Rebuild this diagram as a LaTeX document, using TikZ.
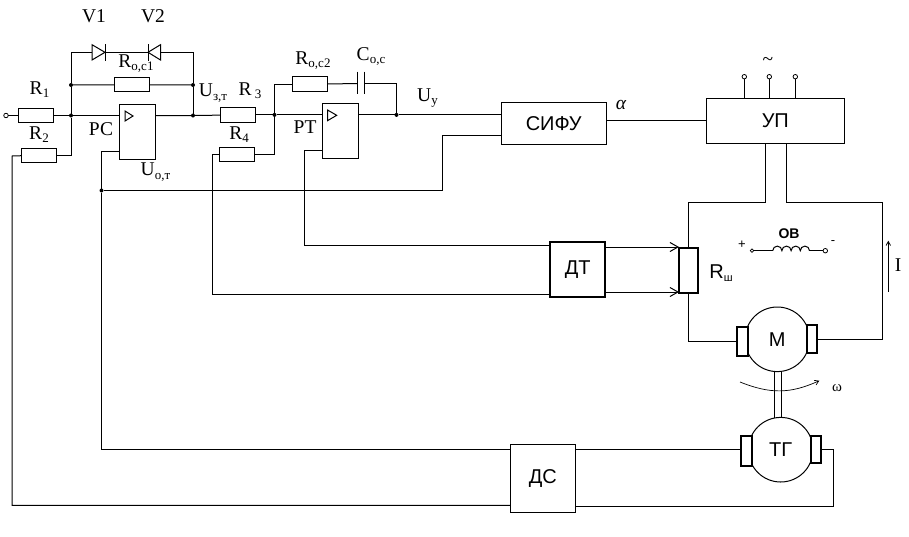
\documentclass[tikz,border=0pt]{standalone}
\usepackage{fontspec}
\setmainfont{Liberation Serif}
\setsansfont{Liberation Sans}
\usetikzlibrary{arrows.meta, positioning, calc}
\newcommand{\sbs}[1]{\raisebox{-0.4ex}{\fontsize{13}{13}\selectfont #1}}

\begin{document}
\begin{tikzpicture}[x=1pt, y=-1pt, >=Stealth, line width=1pt,
    every node/.style={inner sep=0pt, outer sep=0pt},
    res/.style={draw, minimum width=35pt, minimum height=14.5pt},
    amp/.style={draw, minimum width=36pt, minimum height=55pt},
    block/.style={draw, font=\sffamily\fontsize{20}{20}\selectfont},
    thickblock/.style={block, line width=2pt},
    brush/.style={draw, fill=white, line width=2pt},
    machine/.style={draw, circle, minimum size=64.6pt, font=\sffamily\fontsize{20}{20}\selectfont},
    dot/.style={circle, fill, minimum size=4pt},
    term/.style={circle, draw, fill=white, line width=0.8pt, minimum size=4.5pt},
    lbl/.style={font=\fontsize{19.5}{19.5}\selectfont},
    barb/.style={-{Straight Barb[length=8pt, width=9pt]}}]
    \useasboundingbox (0,0) rectangle (909,536);

    % first regulator
    \node (In) at (6,115.5) [term] {};
    \node (R1) at (36,115.5) [res] {};
    \node (R2) at (39,155.7) [res] {};
    \node (Roc1) at (132,84.7) [res] {};
    \node (PC) at (137.5,131.7) [amp] {};
    \node (Sum1) at (71,115.5) [dot] {};
    \node (Fb1) at (71,85) [dot] {};
    \node (Out1) at (193,115.5) [dot] {};
    \node (Fb2) at (193,85) [dot] {};
    \coordinate (TopL) at (71,52.3);
    \coordinate (TopR) at (193,52.3);
    \coordinate (D1) at (105.5,52.3);
    \coordinate (D2) at (148,52.3);
    \coordinate (PCin) at (119.5,151.5);

    % second regulator
    \node (R3) at (238,114.9) [res] {};
    \node (R4) at (237,154.7) [res] {};
    \node (Roc2) at (310,84) [res] {};
    \node (PT) at (340.5,130.8) [amp] {};
    \node (Sum2) at (274.5,114.9) [dot] {};
    \node (Out2) at (396.5,114.9) [dot] {};
    \node (Ub) at (101.5,190.5) [dot] {};
    \coordinate (C1) at (357.5,83.5);
    \coordinate (C2) at (364.7,83.5);
    \coordinate (PTin) at (322.5,150.5);

    % power part
    \node (SIFU) at (553.7,123.2) [block, minimum width=104.7pt, minimum height=41.7pt] {СИФУ};
    \node (UP) at (775.3,120.7) [block, minimum width=138pt, minimum height=44.7pt] {УП};
    \node (DT) at (577.7,269.3) [thickblock, minimum width=55.3pt, minimum height=55.3pt] {ДТ};
    \node (DS) at (542.8,478.2) [block, minimum width=65pt, minimum height=67.7pt] {ДС};
    \node (Rsh) at (688.5,270.3) [draw, line width=2pt, minimum width=19pt, minimum height=44.7pt] {};
    \node (M) at (777.3,339.3) [machine] {М};
    \node (TG) at (780.7,449.7) [machine] {ТГ};
    \node (BrM1) at (742.5,341.3) [brush, minimum width=11.6pt, minimum height=29.3pt] {};
    \node (BrM2) at (812,339) [brush, minimum width=10.6pt, minimum height=27.4pt] {};
    \node (BrT1) at (746.5,451) [brush, minimum width=11.6pt, minimum height=30pt] {};
    \node (BrT2) at (816,449.3) [brush, minimum width=10.6pt, minimum height=27.3pt] {};
    \node (T1) at (744.3,76.7) [term] {};
    \node (T2) at (769.3,76.7) [term] {};
    \node (T3) at (795.3,76.7) [term] {};
    \coordinate (UPa) at (765.7,143);
    \coordinate (UPb) at (786.3,143);

    % first regulator wires
    \draw (In) -- (R1);
    \draw (R1) -- (Sum1) -- (PC.west |- Sum1);
    \draw (PC.east |- Out1) -- (Out1) -- (R3);
    \draw (R2.east) -| (Sum1);
    \draw (Sum1) -- (Fb1) -- (TopL) -- (D1) -- (D2) -- (TopR) -- (Fb2) -- (Out1);
    \draw (Fb1) -- (Roc1) -- (Fb2);
    \draw[fill=white] (92,44.7) -- (92,60) -- (105,52.3) -- cycle;
    \draw (105.5,44) -- (105.5,60.5);
    \draw[fill=white] (160.5,44.7) -- (160.5,60) -- (148,52.3) -- cycle;
    \draw (148,44) -- (148,60.5);
    \draw (125,111) -- (125,121) -- (133,116) -- cycle;
    \draw (PCin) -| (Ub);
    \draw (Ub) |- (DS.west |- 0,449);
    \draw (Ub) -| (442,135.3) -- (SIFU.west |- 0,135.3);

    % second regulator wires
    \draw (R3) -- (Sum2) -- (PT.west |- Sum2);
    \draw (R4.east) -| (Sum2);
    \draw (Sum2) |- (Roc2.west);
    \draw (Roc2.east) -- (C1);
    \draw (C1 |- 0,71.5) -- (C1 |- 0,94);
    \draw (C2 |- 0,71.5) -- (C2 |- 0,94);
    \draw (C2) -| (Out2);
    \draw (PT.east |- Out2) -- (Out2) -- (SIFU.west |- Out2);
    \draw (327.5,110) -- (327.5,120.7) -- (336.7,115.3) -- cycle;
    \draw (PTin) -| (304.7,245) -- (DT.west |- 0,245);
    \draw (R4.west) -| (212.5,294) -- (DT.west |- 0,294);

    % power wires
    \draw (SIFU.east |- 0,120) -- (UP.west |- 0,120);
    \draw (T1) -- (T1 |- UP.north);
    \draw (T2) -- (T2 |- UP.north);
    \draw (T3) -- (T3 |- UP.north);
    \draw (UPa) |- (688.5,202.3) -- (Rsh.north);
    \draw (UPb) |- (882.3,202.3) |- (BrM2.east);
    \draw (Rsh.south) |- (BrM1.west);
    \draw[barb] (DT.east |- 0,247) -- (Rsh.west |- 0,247);
    \draw[barb] (DT.east |- 0,292) -- (Rsh.west |- 0,292);
    \draw (DS.east |- 0,449) -- (BrT1.west |- 0,449);
    \draw (BrT2.east) -| (833.3,506) -- (DS.east |- 0,506);
    \draw (DS.west |- 0,505.4) -| (12,156) -- (R2.west);

    % shaft and arrows
    \draw (774.3,371.5) -- (774.3,417.5);
    \draw (781.7,371.5) -- (781.7,417.5);
    \draw[line width=0.7pt, -{Straight Barb[length=4pt, width=5pt]}] (740,382) .. controls (770,394) and (790,394) .. (819.3,380.7);
    \draw[line width=0.8pt, -{Straight Barb[length=4pt, width=4.5pt]}] (888.3,291.7) -- (888.3,240.7);

    % field winding
    \node (F1) at (752,250.7) [term, minimum size=3.5pt, line width=0.7pt] {};
    \node (F2) at (825.3,250.7) [term] {};
    \draw (F1) -- (772.7,250.7);
    \draw (809.3,250.7) -- (F2);
    \draw (772.7,250.7) arc (180:360:4.6) arc (180:360:4.6) arc (180:360:4.6) arc (180:360:4.6);

    % labels
    \node (LV1) at (94,16.5) [lbl] {V1};
    \node (LV2) at (153,16.5) [lbl] {V2};
    \node (LR1) at (39.5,89.5) [lbl] {R\sbs{1}};
    \node (LR2) at (39,134.5) [lbl] {R\sbs{2}};
    \node (LRoc1) at (136,63.5) [lbl] {R\sbs{о,с1}};
    \node (LPC) at (101,129.5) [lbl] {РС};
    \node (LUot) at (155.5,172) [lbl] {U\sbs{о,т}};
    \node (LUzt) at (213,93) [lbl] {U\sbs{з,т}};
    \node (LR3) at (250,90.5) [lbl] {R\,\sbs{3}};
    \node (LR4) at (239,134.5) [lbl] {R\sbs{4}};
    \node (LRoc2) at (313,60.5) [lbl] {R\sbs{о,с2}};
    \node (LCoc) at (371,56.5) [lbl] {C\sbs{о,с}};
    \node (LPT) at (305,127.5) [lbl] {РТ};
    \node (LUy) at (427.5,98) [lbl] {U\sbs{у}};
    \node (LAlpha) at (621,105) [lbl] {\itshape α};
    \node (LTilde) at (768,61) [lbl] {\textasciitilde};
    \node (LOV) at (789,234) [font=\sffamily\bfseries\fontsize{14}{14}\selectfont] {ОВ};
    \node (LPlus) at (742,245) [font=\sffamily\fontsize{13}{13}\selectfont] {+};
    \node (LMinus) at (833,243) [font=\sffamily\fontsize{13}{13}\selectfont] {-};
    \node (LRsh) at (721,273) [font=\sffamily\fontsize{20}{20}\selectfont] {R\raisebox{-0.3ex}{\fontsize{11}{11}\selectfont ш}};
    \node (LI) at (898,265) [lbl] {I};
    \node (LOmega) at (837,388) [font=\fontsize{15}{15}\selectfont] {ω};
\end{tikzpicture}
\end{document}
